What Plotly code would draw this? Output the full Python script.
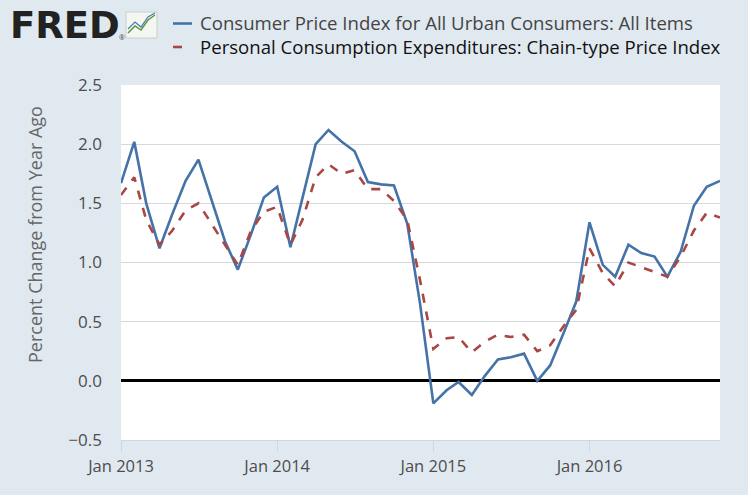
import plotly.graph_objects as go

months = [f"{y}-{m:02d}-01" for y in range(2013, 2017) for m in range(1, 13)][:47]

cpi = [1.67, 2.02, 1.50, 1.12, 1.41, 1.69, 1.87, 1.52, 1.18, 0.94, 1.24, 1.55,
       1.64, 1.13, 1.55, 2.00, 2.12, 2.02, 1.94, 1.68, 1.66, 1.65, 1.33, 0.65,
       -0.19, -0.08, -0.01, -0.12, 0.04, 0.18, 0.20, 0.23, 0.00, 0.13, 0.40, 0.67,
       1.34, 0.98, 0.88, 1.15, 1.08, 1.05, 0.88, 1.09, 1.48, 1.64, 1.69]

pce = [1.57, 1.72, 1.36, 1.15, 1.27, 1.44, 1.50, 1.33, 1.15, 0.98, 1.27, 1.43,
       1.47, 1.15, 1.36, 1.72, 1.83, 1.75, 1.78, 1.62, 1.62, 1.52, 1.36, 0.85,
       0.27, 0.36, 0.37, 0.24, 0.33, 0.39, 0.37, 0.39, 0.25, 0.30, 0.46, 0.60,
       1.12, 0.91, 0.80, 1.00, 0.96, 0.92, 0.88, 1.05, 1.27, 1.42, 1.38]

cpi_name = "Consumer Price Index for All Urban Consumers: All Items"
pce_name = "Personal Consumption Expenditures: Chain-type Price Index"
y_title = "Percent Change from Year Ago"

W, H = 748, 495
L, R, T, B = 121, 28, 85, 55
pw, ph = W - L - R, H - T - B


def px(x):
    return (x - L) / pw


def py(y):
    return (H - B - y) / ph


FONT = "Open Sans, Arial"
BLUE = "#4572a7"
RED = "#aa4643"

fig = go.Figure()
fig.add_trace(go.Scatter(x=months, y=cpi, mode="lines", name=cpi_name,
                         line=dict(color=BLUE, width=2.6)))
fig.add_trace(go.Scatter(x=months, y=pce, mode="lines", name=pce_name,
                         line=dict(color=RED, width=2.6, dash="dash")))

fig.update_layout(
    width=W, height=H,
    margin=dict(l=L, r=R, t=T, b=B),
    paper_bgcolor="#e1e9f0",
    plot_bgcolor="#ffffff",
    font=dict(family=FONT, size=16, color="#4d4d4d"),
    showlegend=False,
    xaxis=dict(
        type="date",
        range=["2013-01-01", "2016-11-01"],
        tick0="2013-01-01", dtick="M12", tickformat="%b %Y",
        showgrid=False, showline=True, linecolor="#ccd6eb", linewidth=1,
        ticks="outside", ticklen=11, tickcolor="#ccd6eb",
        tickfont=dict(size=16.5, color="#4d4d4d"),
    ),
    yaxis=dict(
        range=[-0.5, 2.5], dtick=0.5, tickformat=".1f",
        showgrid=True, gridcolor="#d8d8d8", gridwidth=1,
        zeroline=True, zerolinecolor="#000000", zerolinewidth=2.5,
        ticks="", ticklabelstandoff=18,
        tickfont=dict(size=17, color="#4d4d4d"),
    ),
)

# y-axis title
fig.add_annotation(text=y_title, xref="paper", yref="paper",
                   x=px(35), y=py(235), xanchor="center", yanchor="middle",
                   textangle=-90, showarrow=False,
                   font=dict(size=18, color="#666666"))

# legend (manual)
row1, row2 = 22.5, 47
fig.add_shape(type="line", xref="paper", yref="paper",
              x0=px(173), x1=px(192), y0=py(row1 + 1), y1=py(row1 + 1),
              line=dict(color=BLUE, width=2.6))
fig.add_shape(type="line", xref="paper", yref="paper",
              x0=px(173), x1=px(191), y0=py(row2), y1=py(row2),
              line=dict(color=RED, width=2.6, dash="dash"))
fig.add_annotation(text=cpi_name, xref="paper", yref="paper",
                   x=px(199), y=py(row1), xanchor="left", yanchor="middle",
                   showarrow=False, borderpad=0,
                   font=dict(size=18.6, color="#444444"))
fig.add_annotation(text=pce_name, xref="paper", yref="paper",
                   x=px(199), y=py(row2), xanchor="left", yanchor="middle",
                   showarrow=False, borderpad=0,
                   font=dict(size=18.6, color="#111111"))

# FRED logo text
fig.add_annotation(text="<b>FRED</b>", xref="paper", yref="paper",
                   x=px(8), y=py(25), xanchor="left", yanchor="middle",
                   showarrow=False,
                   font=dict(family="DejaVu Sans, Arial", size=37, color="#222222"))
fig.add_annotation(text="®", xref="paper", yref="paper",
                   x=px(117), y=py(38), xanchor="left", yanchor="middle",
                   showarrow=False, font=dict(size=7, color="#444444"))
# small logo icon
fig.add_shape(type="rect", xref="paper", yref="paper",
              x0=px(126), x1=px(157), y0=py(38), y1=py(12),
              fillcolor="#f4f6f2", line=dict(color="#c8d0c8", width=1))
fig.add_shape(type="path", xref="paper", yref="paper",
              path=(f"M {px(128)} {py(33)} L {px(135)} {py(26)} L {px(141)} {py(30)} "
                    f"L {px(148)} {py(20)} L {px(155)} {py(15)}"),
              line=dict(color="#5a9a3a", width=1.5))
fig.add_shape(type="path", xref="paper", yref="paper",
              path=(f"M {px(128)} {py(29)} L {px(135)} {py(22)} L {px(141)} {py(27)} "
                    f"L {px(148)} {py(17)} L {px(155)} {py(13)}"),
              line=dict(color="#4a7ab0", width=1.2))

fig.write_html(
    "out.html",
    config={"displayModeBar": False},
    post_script="document.body.style.margin='0';document.body.style.background='#e1e9f0';",
)
